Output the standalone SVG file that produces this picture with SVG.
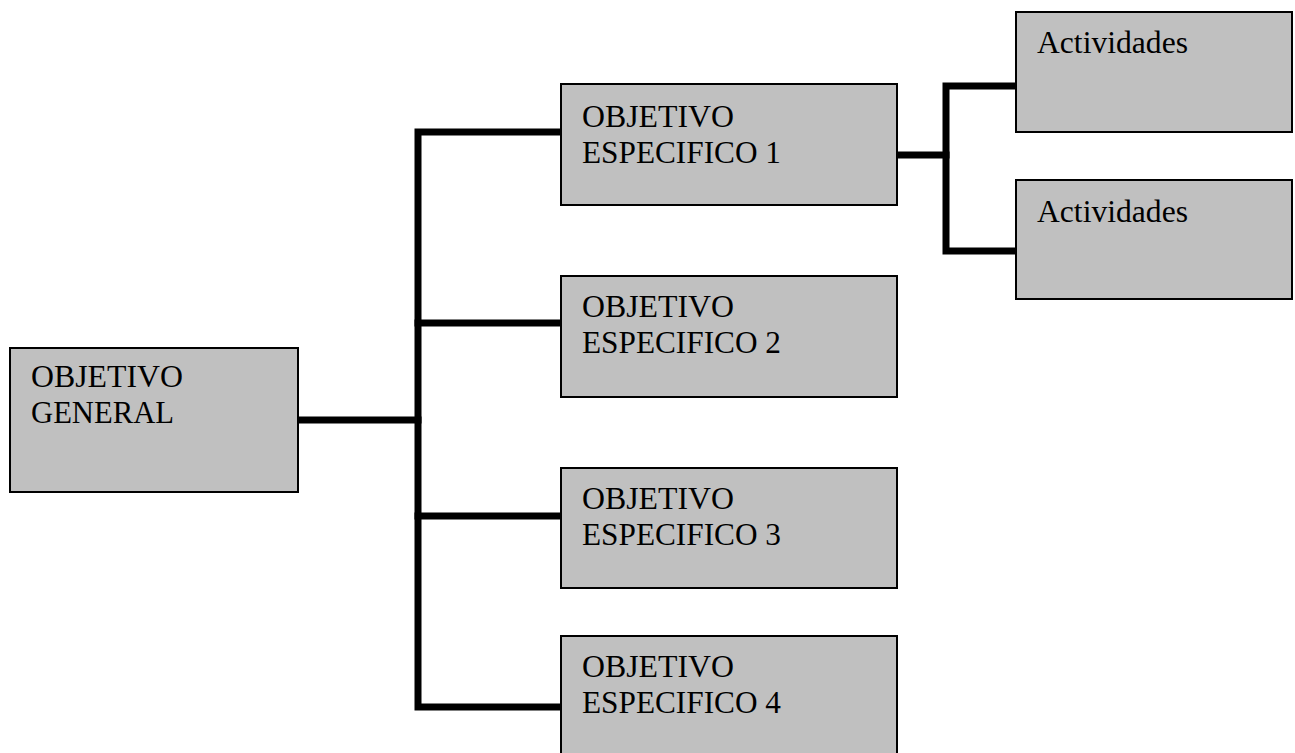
<svg xmlns="http://www.w3.org/2000/svg" width="1295" height="753" viewBox="0 0 1295 753">
<style>
.box{fill:#c0c0c0;stroke:#000;stroke-width:2}
.t{font-family:'Liberation Serif','Times New Roman',Times,'DejaVu Serif',serif;font-size:31px;fill:#000}
.c{fill:none;stroke:#000;stroke-width:7;stroke-linejoin:miter;stroke-linecap:square}
</style>
<rect width="1295" height="753" fill="#fff"/>
<g id="connectors">
<path class="c" d="M298,420 H418"/>
<path class="c" d="M561,132 H418 V707 H561"/>
<path class="c" d="M418,323 H561"/>
<path class="c" d="M418,516 H561"/>
<path class="c" d="M897,155 H946"/>
<path class="c" d="M1016,86 H946 V251 H1016"/>
</g>
<g id="general"><rect class="box" x="10" y="348" width="288" height="144"/><text class="t" x="31" y="387" textLength="152" lengthAdjust="spacingAndGlyphs">OBJETIVO</text><text class="t" x="31" y="423" textLength="143" lengthAdjust="spacingAndGlyphs">GENERAL</text></g>
<g id="esp1"><rect class="box" x="561" y="84" width="336" height="121"/><text class="t" x="582" y="127" textLength="152" lengthAdjust="spacingAndGlyphs">OBJETIVO</text><text class="t" x="582" y="163" textLength="199" lengthAdjust="spacingAndGlyphs">ESPECIFICO 1</text></g>
<g id="esp2"><rect class="box" x="561" y="276" width="336" height="121"/><text class="t" x="582" y="317" textLength="152" lengthAdjust="spacingAndGlyphs">OBJETIVO</text><text class="t" x="582" y="353" textLength="199" lengthAdjust="spacingAndGlyphs">ESPECIFICO 2</text></g>
<g id="esp3"><rect class="box" x="561" y="468" width="336" height="120"/><text class="t" x="582" y="509" textLength="152" lengthAdjust="spacingAndGlyphs">OBJETIVO</text><text class="t" x="582" y="545" textLength="199" lengthAdjust="spacingAndGlyphs">ESPECIFICO 3</text></g>
<g id="esp4"><rect class="box" x="561" y="636" width="336" height="130"/><text class="t" x="582" y="677" textLength="152" lengthAdjust="spacingAndGlyphs">OBJETIVO</text><text class="t" x="582" y="713" textLength="199" lengthAdjust="spacingAndGlyphs">ESPECIFICO 4</text></g>
<g id="act1"><rect class="box" x="1016" y="12" width="276" height="120"/><text class="t" x="1037" y="53" textLength="151" lengthAdjust="spacingAndGlyphs">Actividades</text></g>
<g id="act2"><rect class="box" x="1016" y="180" width="276" height="119"/><text class="t" x="1037" y="222" textLength="151" lengthAdjust="spacingAndGlyphs">Actividades</text></g>
</svg>
